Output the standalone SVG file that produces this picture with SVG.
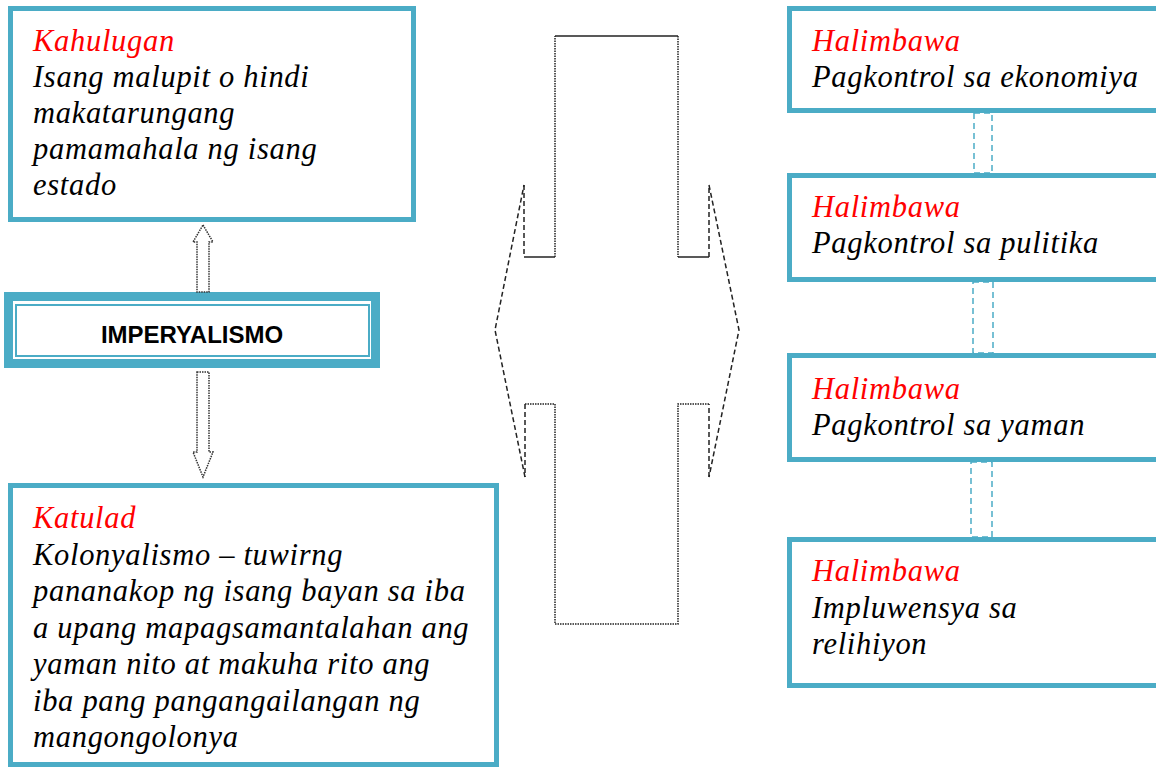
<svg xmlns="http://www.w3.org/2000/svg" width="1156" height="767" viewBox="0 0 1156 767">
<style>
.box{fill:#fff;stroke:#4BACC6;stroke-width:5}
.t{font-family:"Liberation Serif","Times New Roman",serif;font-style:italic;font-size:30.5px;letter-spacing:0.7px;fill:#000}
.r{fill:#FF0000}
.arr{fill:#fff;stroke:#333;stroke-width:1.5;stroke-dasharray:1.5 1}
.con{fill:#fff;stroke:#4BACC6;stroke-width:1.5;stroke-dasharray:6 4}
.sh{fill:none;stroke:#222;stroke-width:1.5}
.dot{stroke-dasharray:1.5 1}
.dash{stroke-dasharray:5 3}
</style>
<rect width="1156" height="767" fill="#fff"/>

<g id="kahulugan">
<rect class="box" x="10.5" y="8.5" width="403" height="211"/>
<text class="t"><tspan class="r" x="33" y="51">Kahulugan</tspan><tspan x="33" y="87">Isang malupit o hindi</tspan><tspan x="33" y="123">makatarungang</tspan><tspan x="33" y="159">pamamahala ng isang</tspan><tspan x="33" y="195">estado</tspan></text>
</g>

<g id="imperyalismo">
<rect x="8.5" y="296.5" width="367" height="67" fill="#fff" stroke="#4BACC6" stroke-width="9"/>
<rect x="16" y="305" width="353" height="51" fill="none" stroke="#4BACC6" stroke-width="2"/>
<text x="192" y="343" text-anchor="middle" font-family="Liberation Sans, Arial, sans-serif" font-weight="bold" font-size="24" fill="#000">IMPERYALISMO</text>
</g>

<g id="katulad">
<rect class="box" x="10.5" y="485.5" width="486" height="279"/>
<text class="t"><tspan class="r" x="33" y="528">Katulad</tspan><tspan x="33" y="565">Kolonyalismo – tuwirng</tspan><tspan x="33" y="601">pananakop ng isang bayan sa iba</tspan><tspan x="33" y="638">a upang mapagsamantalahan ang</tspan><tspan x="33" y="674">yaman nito at makuha rito ang</tspan><tspan x="33" y="711">iba pang pangangailangan ng</tspan><tspan x="33" y="747">mangongolonya</tspan></text>
</g>

<g id="halimbawa1">
<rect class="box" x="789.5" y="8.5" width="380" height="102"/>
<text class="t"><tspan class="r" x="812" y="51">Halimbawa</tspan><tspan x="812" y="87">Pagkontrol sa ekonomiya</tspan></text>
</g>
<g id="halimbawa2">
<rect class="box" x="789.5" y="175.5" width="380" height="104"/>
<text class="t"><tspan class="r" x="812" y="217">Halimbawa</tspan><tspan x="812" y="253">Pagkontrol sa pulitika</tspan></text>
</g>
<g id="halimbawa3">
<rect class="box" x="789.5" y="355.5" width="380" height="104"/>
<text class="t"><tspan class="r" x="812" y="399">Halimbawa</tspan><tspan x="812" y="435">Pagkontrol sa yaman</tspan></text>
</g>
<g id="halimbawa4">
<rect class="box" x="789.5" y="539.5" width="380" height="146"/>
<text class="t"><tspan class="r" x="812" y="581">Halimbawa</tspan><tspan x="812" y="618">Impluwensya sa</tspan><tspan x="812" y="654">relihiyon</tspan></text>
</g>

<g id="cross-shape">
<line class="sh" x1="555" y1="36" x2="678" y2="36"/>
<line class="sh dot" x1="678" y1="36" x2="678" y2="257"/>
<line class="sh" x1="678" y1="257" x2="709" y2="257"/>
<line class="sh dash" x1="709" y1="257" x2="709" y2="185"/>
<polyline class="sh dash" points="709,185 739,330 709,477"/>
<line class="sh dash" x1="709" y1="477" x2="709" y2="404"/>
<polyline class="sh dot" points="709,404 678,404 678,624 555,624 555,404 525,404"/>
<line class="sh dash" x1="525" y1="404" x2="525" y2="477"/>
<polyline class="sh dash" points="525,477 495,330 524,185"/>
<line class="sh dash" x1="524" y1="185" x2="524" y2="257"/>
<line class="sh" x1="524" y1="257" x2="555" y2="257"/>
<line class="sh dot" x1="555" y1="257" x2="555" y2="36"/>
</g>

<g id="connectors">
<polygon class="arr" points="203,225 213,242 209,242 209,292 197,292 197,242 193,242"/>
<polygon class="arr" points="197,372 209,372 209,452 213,452 203,477 193,452 197,452"/>
<rect class="con" x="974" y="113" width="18" height="60"/>
<rect class="con" x="973" y="282" width="20" height="71"/>
<rect class="con" x="971" y="462" width="21" height="75"/>
</g>
</svg>
